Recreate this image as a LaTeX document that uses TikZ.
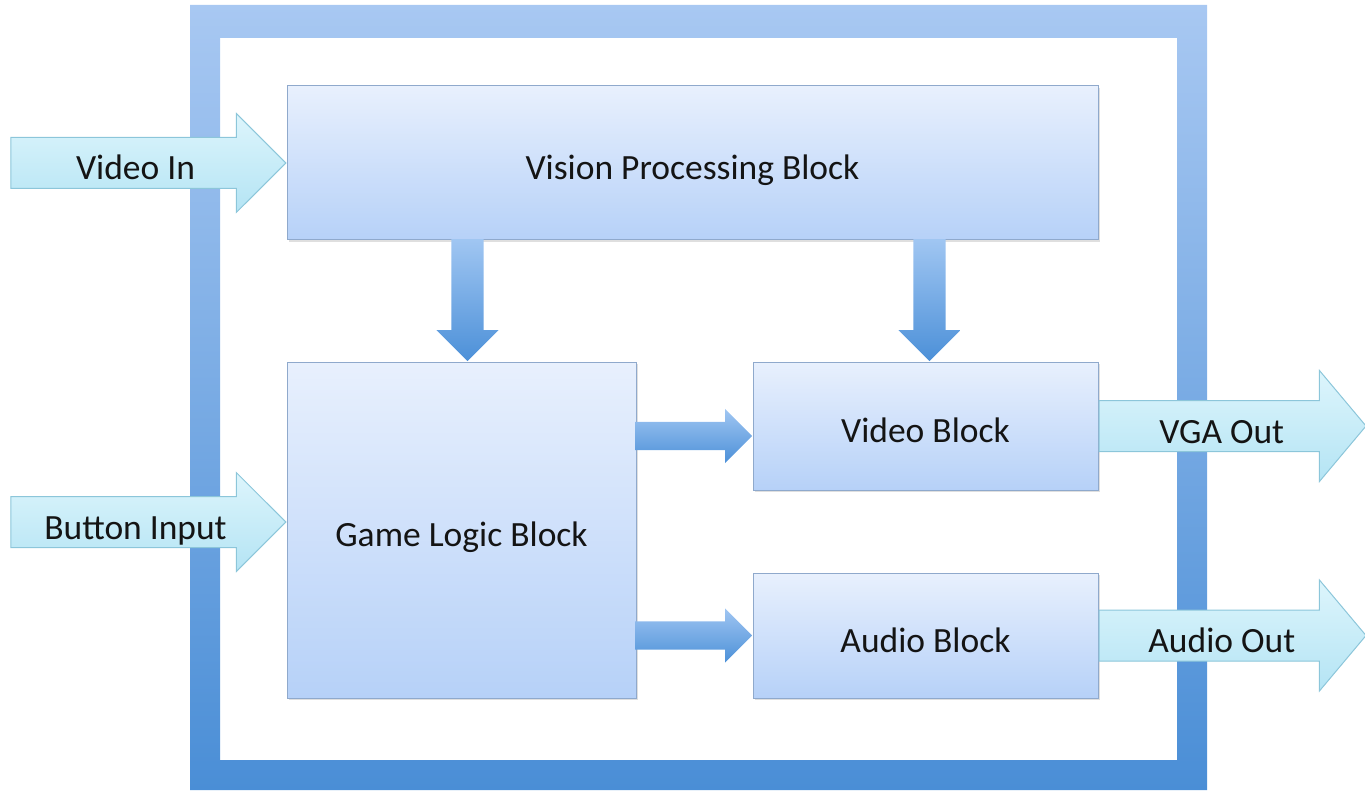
\documentclass[tikz,border=0pt]{standalone}
\usepackage{fontspec}
\setmainfont{Carlito}
\usetikzlibrary{shapes.arrows,shadows,calc}

\definecolor{framelight}{HTML}{A8C8F2}
\definecolor{framedark}{HTML}{4A8ED6}
\definecolor{blocklight}{HTML}{E8F0FD}
\definecolor{blockdark}{HTML}{B6D1F8}
\definecolor{blockline}{HTML}{8FA9CC}
\definecolor{linklight}{HTML}{A0C6F2}
\definecolor{linkdark}{HTML}{4C90D8}
\definecolor{iolight}{HTML}{DDF5FC}
\definecolor{iodark}{HTML}{B4E4F4}
\definecolor{ioline}{HTML}{8CC6DA}
\definecolor{labeltext}{HTML}{141414}

\tikzset{
	block/.style={rectangle, draw=blockline, line width=1pt, top color=blocklight, bottom color=blockdark,
		text height=33pt, text depth=0pt,
		drop shadow={opacity=0.25, shadow xshift=2pt, shadow yshift=-2pt}},
	ioarrow/.style={single arrow, draw=ioline, line width=1pt, top color=iolight, bottom color=iodark,
		text height=34pt, text depth=0pt, inner ysep=8pt, inner xsep=0pt},
	link/.style={single arrow, top color=linklight, bottom color=linkdark, inner sep=0pt}
}

\begin{document}
\begin{tikzpicture}[x=1pt, y=-1pt, font=\fontsize{35.5}{42}\selectfont, text=labeltext]
	\useasboundingbox (0,0) rectangle (1365,794);
	% outer frame
	\shade[top color=framelight, bottom color=framedark, even odd rule]
		(190,5) rectangle (1207,790) (220,38) rectangle (1177,760);
	% blocks
	\node[block, minimum width=811pt, minimum height=154pt] (vision) at (692.5,163) {Vision Processing Block};
	\node[block, minimum width=349pt, minimum height=336pt] (game) at (461.5,530) {Game Logic Block};
	\node[block, minimum width=345pt, minimum height=128pt] (video) at (925.5,426) {Video Block};
	\node[block, minimum width=345pt, minimum height=125pt] (audio) at (925.5,635.5) {Audio Block};
	% links between blocks
	\node[link, shape border rotate=270, minimum height=122pt, minimum width=62pt, inner sep=16pt,
		single arrow head extend=15pt, anchor=tip] (l1) at ($(game.north)+(6,0)$) {};
	\node[link, shape border rotate=270, minimum height=122pt, minimum width=62pt, inner sep=16pt,
		single arrow head extend=15pt, anchor=tip] (l2) at ($(video.north)+(4,0)$) {};
	\node[link, minimum height=117pt, minimum width=54pt, inner sep=14pt,
		single arrow head extend=13pt, anchor=tip] (l3) at ($(video.west)+(0,10)$) {};
	\node[link, minimum height=117pt, minimum width=54pt, inner sep=14pt,
		single arrow head extend=13pt, anchor=tip] (l4) at (audio.west) {};
	% inputs and outputs
	\node[ioarrow, anchor=tip, minimum height=275pt, single arrow head extend=24pt] (vin) at (vision.west) {Video In};
	\node[ioarrow, anchor=tip, minimum height=275pt, single arrow head extend=24pt] (bin) at ($(game.west)+(0,-8)$) {Button Input};
	\node[ioarrow, anchor=tail, minimum height=267pt, single arrow head extend=30pt, single arrow tip angle=100] (vga) at (video.east) {VGA Out};
	\node[ioarrow, anchor=tail, minimum height=267pt, single arrow head extend=30pt, single arrow tip angle=100] (aout) at (audio.east) {Audio Out};
\end{tikzpicture}
\end{document}
